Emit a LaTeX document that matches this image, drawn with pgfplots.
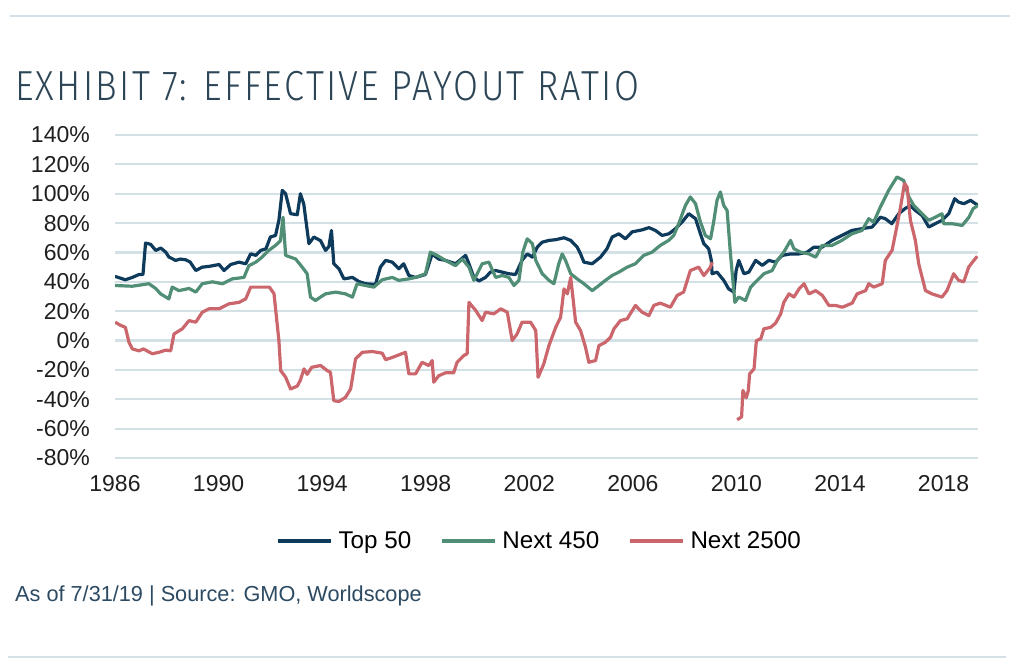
\documentclass[border=0pt]{standalone}
\usepackage{fontspec}
\setmainfont{Liberation Sans}
\IfFontExistsTF{Fira Sans Light}{\newfontfamily\titlefont{Fira Sans Light}[FakeStretch=0.86,LetterSpace=5.5]}{\newfontfamily\titlefont{Liberation Sans}[FakeStretch=0.78,LetterSpace=4]}
\usepackage{pgfplots}
\pgfplotsset{compat=1.18}
\definecolor{navy}{HTML}{0E3A5B}
\definecolor{tealc}{HTML}{508E76}
\definecolor{rose}{HTML}{CB676C}
\definecolor{gridc}{HTML}{D3E0E6}
\definecolor{zeroc}{HTML}{3E4A52}
\definecolor{titlec}{HTML}{2D4657}
\definecolor{rulec}{HTML}{D5E1E6}
\definecolor{srcc}{HTML}{2C4A62}
\begin{document}
\begin{tikzpicture}
\useasboundingbox (0pt,0pt) rectangle (1024pt,670pt);
\draw[rulec, line width=2pt] (10pt,654pt) -- (1010pt,654pt);
\draw[rulec, line width=2pt] (8pt,13pt) -- (1006pt,13pt);
\node[anchor=base west, inner sep=0, text=titlec, font=\titlefont\fontsize{42}{50}\selectfont] at (15pt,569pt) {EXHIBIT 7: EFFECTIVE PAYOUT RATIO};
\node[anchor=base west, inner sep=0, text=srcc, font=\fontsize{21.7}{26}\selectfont] at (15pt,69pt) {As of 7/31/19 | Source: GMO, Worldscope};
\begin{axis}[
  at={(115pt,212pt)}, anchor=south west,
  scale only axis, width=863pt, height=323pt,
  xmin=1986, xmax=2019.33, ymin=-80, ymax=140,
  axis line style={draw=none},
  ytick={-80,-60,...,140},
  xtick={1986,1990,...,2018},
  ymajorgrids, major grid style={gridc, line width=2.2pt},
  extra y ticks={0}, extra y tick labels={},
  extra y tick style={grid style={zeroc, line width=2pt}},
  tick style={draw=none},
  /pgf/number format/assume math mode=true,
  xticklabel={\pgfmathprintnumber[1000 sep={}]{\tick}},
  yticklabel={\pgfmathprintnumber{\tick}\%},
  ticklabel style={font=\fontsize{23}{27}\selectfont, text=black!88, inner sep=0pt},
  xticklabel style={yshift=-17pt},
  yticklabel style={xshift=-25pt},
  unbounded coords=jump,
  legend style={at={(0.492,-0.257)}, anchor=center, draw=none, fill=none,
    font=\fontsize{24.2}{28}\selectfont, legend columns=3,
    /tikz/every odd column/.append style={column sep=4pt},
    /tikz/every even column/.append style={column sep=27pt}},
  legend image code/.code={\draw[#1, line width=3.2pt, line cap=butt] (0pt,0pt) -- (53pt,0pt);},
  every axis plot/.append style={line width=3.2pt, line join=round},
]
\addplot[navy] coordinates {(1986.0,43.7)(1986.4,41.4)(1986.67,43)(1986.93,45)(1987.08,45)(1987.18,66.4)(1987.38,65.5)(1987.57,61.4)(1987.77,63)(1987.96,60.2)(1988.08,56.9)(1988.34,54.6)(1988.53,55.5)(1988.73,55)(1988.9,53.5)(1989.12,47.7)(1989.37,50)(1989.63,50.5)(1990.02,51.8)(1990.21,47.7)(1990.47,51.8)(1990.79,53.4)(1991.05,52.3)(1991.24,59.1)(1991.44,58)(1991.63,61.4)(1991.83,62.5)(1992.0,70.5)(1992.2,71.6)(1992.33,81.9)(1992.46,102.3)(1992.59,100)(1992.78,86.4)(1993.04,85.7)(1993.16,100)(1993.29,93)(1993.49,66)(1993.68,70.5)(1993.94,68)(1994.13,61.4)(1994.26,64)(1994.36,75)(1994.45,52.3)(1994.65,48.9)(1994.84,42)(1995.17,43)(1995.42,40.2)(1995.67,38.7)(1996.06,38.2)(1996.25,50)(1996.45,54.6)(1996.71,53.4)(1996.96,48.9)(1997.15,52.3)(1997.35,44.3)(1997.61,43)(1997.99,45)(1998.25,59)(1998.5,55.5)(1998.76,54.6)(1999.15,52.3)(1999.54,58)(1999.67,52.3)(1999.86,43)(2000.06,40.6)(2000.31,43)(2000.5,46.6)(2000.7,47.7)(2000.96,46.6)(2001.21,45.5)(2001.47,45)(2001.72,54.6)(2001.92,59)(2002.12,56.8)(2002.31,63.6)(2002.5,67)(2002.76,68.2)(2003.02,68.7)(2003.34,70)(2003.6,68.2)(2003.85,63.6)(2003.98,59)(2004.11,53.4)(2004.43,52.3)(2004.75,56.8)(2005.0,62.5)(2005.2,70.5)(2005.46,72.7)(2005.71,69.3)(2005.97,74)(2006.36,75.4)(2006.62,76.9)(2006.87,75)(2007.13,71.6)(2007.39,72.7)(2007.65,76.2)(2007.9,80.7)(2008.16,86.4)(2008.42,83)(2008.61,72.7)(2008.74,66)(2008.93,62.5)(2009.03,54.6)(2009.06,45.5)(2009.25,46.6)(2009.51,41)(2009.7,35.2)(2009.9,33)(2009.99,47.7)(2010.09,54.6)(2010.29,45.5)(2010.48,46.6)(2010.74,54.6)(2011.0,51.2)(2011.25,54.6)(2011.51,53.4)(2011.77,58)(2012.09,59)(2012.41,59)(2012.73,60.2)(2012.99,63.6)(2013.31,63.6)(2013.69,68.2)(2014.07,71.6)(2014.46,75)(2014.85,76.2)(2015.24,77.3)(2015.56,84)(2015.75,83)(2016.0,79.6)(2016.27,86.4)(2016.52,90)(2016.72,92)(2016.91,88.6)(2017.17,85.2)(2017.43,77.3)(2017.68,79.6)(2017.94,81.9)(2018.2,86.4)(2018.43,96.6)(2018.58,94.3)(2018.78,93.2)(2019.04,95.5)(2019.33,92)};
\addlegendentry{Top 50}
\addplot[tealc] coordinates {(1986.0,37.5)(1986.67,37)(1987.31,38.7)(1987.57,35.5)(1987.76,31.8)(1988.08,28.4)(1988.21,36.4)(1988.47,34)(1988.86,35.5)(1989.12,33)(1989.37,38.7)(1989.76,40)(1990.15,38.7)(1990.53,42)(1990.98,43)(1991.17,51)(1991.44,53.4)(1991.68,56.8)(1991.94,61.4)(1992.2,64.8)(1992.39,68)(1992.49,84)(1992.59,58)(1992.98,55.5)(1993.23,50)(1993.42,45.5)(1993.55,29.6)(1993.74,27.3)(1994.13,31.8)(1994.52,33)(1994.9,31.8)(1995.17,29.6)(1995.35,38.7)(1995.67,37.5)(1996.0,36.4)(1996.32,41.4)(1996.71,43)(1996.96,41)(1997.35,42)(1997.61,43)(1997.99,45.5)(1998.18,60.2)(1998.44,58)(1998.76,54.6)(1999.15,51)(1999.41,55.5)(1999.67,50)(1999.86,41)(2000.18,52.3)(2000.44,53.4)(2000.7,43)(2000.96,44.3)(2001.21,43)(2001.41,37.5)(2001.6,41)(2001.75,60.2)(2001.92,69.3)(2002.12,66)(2002.25,54.6)(2002.5,45.5)(2002.76,41)(2002.95,38.7)(2003.14,52.3)(2003.27,59)(2003.4,54.6)(2003.6,45.5)(2003.85,42)(2004.11,38.7)(2004.43,34)(2004.69,37.5)(2004.94,41)(2005.2,44.3)(2005.46,46.6)(2005.78,50)(2006.1,52.3)(2006.42,58)(2006.74,60.2)(2007.06,64.8)(2007.38,68.2)(2007.58,71.6)(2007.77,79.6)(2008.03,92)(2008.22,97.8)(2008.42,93.2)(2008.61,80.7)(2008.8,71.6)(2009.0,69.3)(2009.12,80.7)(2009.25,95.5)(2009.38,101.2)(2009.51,92)(2009.64,88.6)(2009.77,59)(2009.94,26)(2010.09,29.6)(2010.35,27.3)(2010.55,36.4)(2010.74,39.8)(2011.06,45.5)(2011.38,47.7)(2011.58,54.6)(2011.83,60.2)(2012.09,68.2)(2012.22,62.5)(2012.48,60.2)(2012.8,59)(2013.06,56.8)(2013.31,64.8)(2013.69,64.8)(2014.07,68.2)(2014.46,72.7)(2014.85,75)(2015.11,83)(2015.3,80.7)(2015.56,91)(2015.88,102.3)(2016.2,111.4)(2016.46,109)(2016.66,97.8)(2016.85,92)(2017.17,86.4)(2017.43,81.9)(2017.68,84)(2017.94,86.4)(2018.0,79.6)(2018.33,79.6)(2018.72,78.4)(2018.98,84)(2019.14,89.8)(2019.33,92)};
\addlegendentry{Next 450}
\addplot[rose] coordinates {(1986.0,12.5)(1986.2,10.5)(1986.4,9)(1986.54,-1.2)(1986.67,-5.7)(1986.93,-7)(1987.1,-5.7)(1987.44,-9)(1987.7,-8)(1987.96,-6.5)(1988.15,-7)(1988.28,4.5)(1988.6,8)(1988.86,13.6)(1989.12,12.5)(1989.37,19.3)(1989.63,21.6)(1990.02,21.6)(1990.4,25)(1990.79,26)(1991.05,28.4)(1991.24,36.4)(1991.57,36.4)(1991.96,36.4)(1992.14,32)(1992.33,0)(1992.4,-20.5)(1992.59,-25)(1992.78,-33)(1993.04,-31)(1993.16,-27)(1993.3,-19.3)(1993.42,-23)(1993.6,-18.2)(1993.94,-17)(1994.2,-20.5)(1994.32,-21.6)(1994.45,-41)(1994.65,-41.5)(1994.9,-38.7)(1995.1,-33)(1995.29,-12.5)(1995.55,-8)(1995.94,-7.5)(1996.32,-8.6)(1996.45,-13)(1996.71,-11.5)(1997.22,-8)(1997.35,-22.7)(1997.61,-22.7)(1997.86,-14.8)(1998.12,-17)(1998.25,-13.6)(1998.31,-28.4)(1998.5,-24)(1998.76,-22)(1999.08,-22)(1999.21,-14.8)(1999.47,-10.2)(1999.6,-9)(1999.67,26)(1999.93,20.5)(2000.18,13.6)(2000.31,19.3)(2000.63,18.2)(2000.9,21.6)(2001.15,19.3)(2001.34,0)(2001.53,4.5)(2001.72,12.5)(2002.05,12.5)(2002.25,6.8)(2002.34,-25)(2002.56,-15.9)(2002.76,-3.4)(2003.02,9)(2003.21,15.9)(2003.34,35.2)(2003.47,31.8)(2003.6,43)(2003.79,12.5)(2003.98,6.8)(2004.17,-4.5)(2004.3,-14.8)(2004.56,-13.6)(2004.69,-3.4)(2004.94,-1.2)(2005.14,2.3)(2005.27,8)(2005.52,13.6)(2005.78,14.8)(2006.1,23.9)(2006.36,19.3)(2006.62,17)(2006.81,23.9)(2007.06,25.5)(2007.45,22.7)(2007.71,30.7)(2007.96,33)(2008.22,47.7)(2008.54,50)(2008.74,44.3)(2009.0,50)(2009.06,53.4)(2009.5,nan)(2010.03,-54)(2010.2,-52)(2010.25,-34)(2010.38,-39)(2010.46,-34)(2010.51,-22.7)(2010.68,-19.3)(2010.77,0)(2010.94,1.2)(2011.06,8)(2011.32,9)(2011.51,11.8)(2011.71,18.2)(2011.83,26)(2012.03,31.8)(2012.22,29.6)(2012.42,35.2)(2012.61,38.7)(2012.8,31.8)(2013.06,34)(2013.32,30.7)(2013.57,23.9)(2013.83,23.9)(2014.09,22.7)(2014.47,25.5)(2014.66,31.8)(2014.99,34)(2015.11,38.7)(2015.3,36.4)(2015.63,38.7)(2015.75,54.6)(2016.01,61.4)(2016.14,72.7)(2016.33,90)(2016.49,106.9)(2016.59,104.6)(2016.72,81.9)(2016.91,68.2)(2017.04,52.3)(2017.3,34)(2017.55,31.8)(2017.94,29.6)(2018.13,34)(2018.39,45.5)(2018.58,41)(2018.78,40)(2018.97,50)(2019.17,54.6)(2019.3,57.4)};
\addlegendentry{Next 2500}
\end{axis}
\end{tikzpicture}
\end{document}
